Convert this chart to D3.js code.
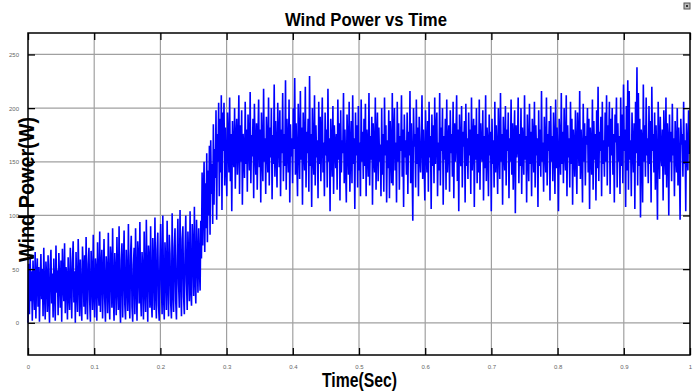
<!DOCTYPE html>
<html><head><meta charset="utf-8">
<script src="https://cdn.jsdelivr.net/npm/d3@7"></script>
<style>html,body{margin:0;padding:0;background:#fff;}svg{display:block;}</style>
</head><body>
<svg id="chart" width="697" height="392"></svg>
<script>
// ---- data ----
const titleText = "Wind Power vs Time";
const xLabel = "Time(Sec)";
const yLabel = "Wind Power(W)";
const xTicks = [0, 0.1, 0.2, 0.3, 0.4, 0.5, 0.6, 0.7, 0.8, 0.9, 1];
const xTickLabels = ["0", "0.1", "0.2", "0.3", "0.4", "0.5", "0.6", "0.7", "0.8", "0.9", "1"];
const yTicks = [0, 50, 100, 150, 200, 250];
const yTickLabels = ["0", "50", "100", "150", "200", "250"];
const xDomain = [0, 1];
const yDomain = [-30, 270];

// time span (s) covered by each segment of samples
const spanStart = [0, 0.26];
const spanRise = [0.26, 0.295];
const spanSteady = [0.295, 1];

// start-up regime, t = 0 .. 0.26
const powerStart = [
0,55,8,62,20,48,2,58,35,12,66,4,44,60,15,52,1,38,64,22,
50,6,70,30,3,57,42,10,63,25,0,54,68,18,46,5,60,33,2,72,
28,49,7,65,40,14,58,1,69,36,20,74,9,52,44,3,61,27,12,70,
38,4,57,76,19,48,0,66,31,10,78,45,6,59,24,2,71,50,15,63,
8,80,35,3,55,70,21,1,67,42,12,82,28,5,60,48,2,75,33,16,
85,10,52,68,4,40,78,22,1,62,47,9,84,30,3,71,56,14,88,26,
2,65,45,7,80,36,12,90,20,0,58,74,5,49,86,17,3,68,40,11,
92,28,4,63,81,15,1,54,70,8,88,38,2,76,60,18,94,25,6,66,
48,3,85,33,10,96,42,1,72,58,14,90,22,5,79,50,12,98,30,4,
68,84,16,2,60,92,35,8,100,26,3,75,55,12,95,40,6,82,64,18,
4,102,30,10,70,88,20,3,62,97,36,14,105,45,6,78,90,24,8,66,
100,38,12,85,58,20,104,30,16,92,70,25,108,42,18,96,60,28,88,50
];
// rise, t = 0.26 .. 0.295
const powerRise = [
30,95,60,140,72,118,150,66,130,88,158,75,142,100,165,82,170,120,148,92,
185,110,162,135,198,96,176,150,205,118,190,140,212,105,196
];
// steady regime, t = 0.295 .. 1.0
const powerSteady = [
160,205,128,182,150,118,196,170,140,210,132,176,104,188,158,145,200,125,172,190,
138,165,212,120,184,150,198,110,176,160,135,206,148,180,122,194,168,142,215,130,
175,155,190,116,204,162,138,186,124,170,208,145,180,112,196,158,132,218,150,172,
120,192,166,140,210,128,182,154,200,115,175,148,222,136,188,160,126,205,170,145,
198,118,180,158,214,132,176,146,226,124,190,165,140,208,112,185,155,172,130,200,
162,228,138,186,150,118,204,170,134,216,152,182,110,196,164,142,220,126,178,158,
190,122,230,146,176,108,200,160,138,212,128,184,154,170,116,206,148,192,132,174,
210,140,168,118,196,156,180,126,218,150,172,104,190,162,136,202,120,184,166,144,
176,124,208,152,186,114,198,140,170,158,214,130,180,146,112,194,164,138,206,122,
160,188,130,212,148,172,106,196,156,184,126,202,142,168,118,208,150,178,134,190,
146,204,118,180,162,136,214,128,174,152,192,110,186,158,140,210,124,170,196,132,
182,150,166,118,200,138,176,122,210,156,184,112,170,144,198,116,188,160,130,214,
128,176,200,142,168,112,206,150,186,124,174,160,212,136,180,108,194,154,170,138,
196,120,178,156,216,130,186,146,95,200,164,176,126,208,148,182,118,192,158,140,
170,212,134,180,150,114,198,162,140,188,122,206,154,174,106,194,146,184,130,210,
148,176,196,118,168,142,214,128,182,160,200,110,174,152,190,124,208,140,166,184,
122,198,158,176,136,206,116,186,150,170,212,132,180,104,194,160,146,202,126,178,
164,188,112,204,146,172,134,196,156,180,120,210,142,168,190,108,184,152,200,130,
176,140,208,124,186,160,150,198,114,174,144,212,132,182,166,118,194,156,178,104,
190,148,170,126,206,140,184,158,120,200,168,134,214,150,176,110,192,162,142,202,
128,180,160,196,116,172,150,208,138,186,124,170,198,102,184,154,164,210,130,176,
146,200,120,182,166,138,212,152,174,112,194,160,132,204,148,178,118,190,170,140,
206,126,184,156,172,108,198,146,180,136,216,150,168,122,192,162,140,210,128,176,
160,188,114,202,150,174,132,196,166,120,208,144,182,156,104,190,170,138,214,148,
178,130,200,162,142,212,118,184,154,172,126,206,148,190,110,180,164,136,198,158,
120,196,170,146,216,134,180,158,112,204,150,186,128,174,166,200,140,190,106,182,
162,138,208,124,188,152,176,114,198,144,220,132,178,160,192,118,206,148,170,136,
196,150,212,128,184,164,206,120,190,156,200,138,176,112,194,168,210,126,186,150,
174,120,210,146,194,130,222,160,180,108,202,142,226,124,216,152,170,118,196,164,
140,186,106,206,158,238,128,214,146,190,98,180,168,112,222,150,184,136,210,156,
172,130,202,148,188,112,220,160,176,140,196,124,184,152,96,206,166,134,192,158,
146,180,114,198,162,138,210,126,186,170,100,194,150,178,132,204,156,172,118,188,
160,140,200,128,182,150,96,190,166,176,136,206,148,170,104,186,160,142,198,158
];

function toPoints(values, span) {
  return values.map((p, i) => ({ t: span[0] + (span[1] - span[0]) * i / values.length, p }));
}
const data = toPoints(powerStart, spanStart)
  .concat(toPoints(powerRise, spanRise))
  .concat(toPoints(powerSteady, spanSteady));
data.push({ t: 1, p: powerSteady[powerSteady.length - 1] });

// ---- layout ----
const svg = d3.select("#chart");
const L = 28, R = 690, T = 33, B = 355;
const x = d3.scaleLinear().domain(xDomain).range([L, R]);
const y = d3.scaleLinear().domain(yDomain).range([B, T]);

svg.append("rect").attr("width", 697).attr("height", 392).attr("fill", "#fff");

// grid
const grid = svg.append("g").attr("stroke", "#a0a0a0").attr("stroke-width", 1.2);
grid.selectAll("line.gx").data(xTicks.slice(1, -1)).join("line")
  .attr("x1", d => x(d)).attr("x2", d => x(d)).attr("y1", T).attr("y2", B);
grid.selectAll("line.gy").data(yTicks).join("line")
  .attr("y1", d => y(d)).attr("y2", d => y(d)).attr("x1", L).attr("x2", R);

// data line
svg.append("path").datum(data)
  .attr("fill", "none").attr("stroke", "#0000ff").attr("stroke-width", 1.6)
  .attr("stroke-linejoin", "miter")
  .attr("d", d3.line().x(d => x(d.t)).y(d => y(d.p)));

// axes (ticks inside)
const tl = 7;
svg.append("g").attr("transform", `translate(0,${B})`)
  .call(d3.axisBottom(x).tickValues(xTicks).tickSize(-tl).tickFormat((d, i) => xTickLabels[i]).tickPadding(tl + 3))
  .call(g => g.select(".domain").remove());
svg.append("g").attr("transform", `translate(0,${T})`)
  .call(d3.axisTop(x).tickValues(xTicks).tickSize(-tl).tickFormat(""))
  .call(g => g.select(".domain").remove());
svg.append("g").attr("transform", `translate(${L},0)`)
  .call(d3.axisLeft(y).tickValues(yTicks).tickSize(-tl).tickFormat((d, i) => yTickLabels[i]).tickPadding(tl + 2))
  .call(g => g.select(".domain").remove());
svg.append("g").attr("transform", `translate(${R},0)`)
  .call(d3.axisRight(y).tickValues(yTicks).tickSize(-tl).tickFormat(""))
  .call(g => g.select(".domain").remove());

svg.selectAll(".tick line").attr("stroke", "#000").attr("stroke-width", 1.3);
svg.selectAll(".tick text").attr("fill", "#666").attr("font-size", 6)
  .attr("font-family", "Liberation Sans, Arial, sans-serif");

// frame
svg.append("rect").attr("x", L).attr("y", T).attr("width", R - L).attr("height", B - T)
  .attr("fill", "none").attr("stroke", "#000").attr("stroke-width", 1.5);

// title and labels
svg.append("text").attr("x", 366).attr("y", 25.5).attr("text-anchor", "middle")
  .attr("font-family", "Liberation Sans, Arial, sans-serif").attr("font-weight", "bold")
  .attr("font-size", 18).attr("textLength", 162).attr("lengthAdjust", "spacingAndGlyphs")
  .attr("fill", "#000").text(titleText);
svg.append("text").attr("x", 359.5).attr("y", 387).attr("text-anchor", "middle")
  .attr("font-family", "Liberation Sans, Arial, sans-serif").attr("font-weight", "bold")
  .attr("font-size", 20).attr("textLength", 75).attr("lengthAdjust", "spacingAndGlyphs")
  .attr("fill", "#000").text(xLabel);
svg.append("text").attr("transform", "translate(34,189.5) rotate(-90)").attr("text-anchor", "middle")
  .attr("font-family", "Liberation Sans, Arial, sans-serif").attr("font-weight", "bold")
  .attr("font-size", 22).attr("textLength", 145).attr("lengthAdjust", "spacingAndGlyphs")
  .attr("fill", "#000").text(yLabel);

// small window icon at top right
svg.append("rect").attr("x", 684).attr("y", 3).attr("width", 6).attr("height", 6)
  .attr("fill", "#bbb").attr("stroke", "#555").attr("stroke-width", 1);
svg.append("rect").attr("x", 686).attr("y", 5).attr("width", 2).attr("height", 2).attr("fill", "#333");
</script>
</body></html>
